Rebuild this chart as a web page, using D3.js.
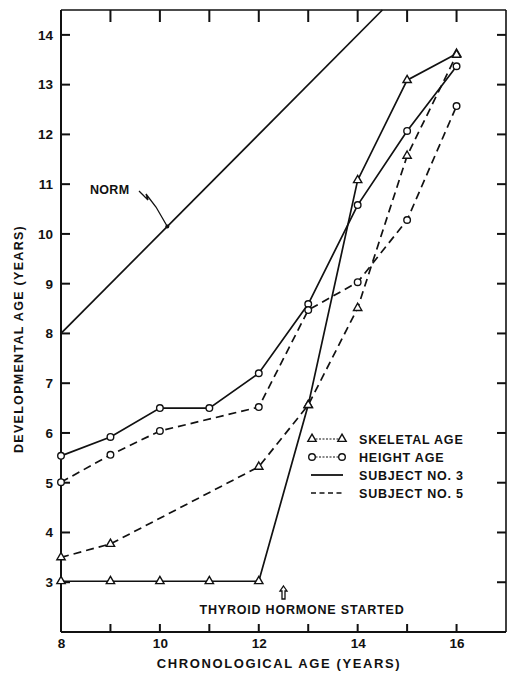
<!DOCTYPE html>
<html>
<head>
<meta charset="utf-8">
<script src="https://cdn.jsdelivr.net/npm/d3@7"></script>
<style>
  html, body { margin: 0; padding: 0; background: #fff; }
  svg { display: block; }
  text { font-family: "Liberation Sans", Arial, sans-serif; font-weight: bold; fill: #111; }
</style>
</head>
<body>
<svg id="chart" width="512" height="679"></svg>
<script>
// Chronological ages (years)
const ages = [8, 9, 10, 11, 12, 13, 14, 15, 16];

// Subject No. 3 (solid lines)
const s3Skeletal = [3.02, 3.02, 3.02, 3.02, 3.02, 6.56, 11.08, 13.09, 13.62];
const s3Height   = [5.54, 5.92, 6.5, 6.5, 7.2, 8.59, 10.58, 12.07, 13.37];

// Subject No. 5 (dashed lines)
const s5SkeletalAges = [8, 9, 12, 13, 14, 15, 16];
const s5Skeletal     = [3.5, 3.77, 5.32, 6.56, 8.51, 11.57, 13.6];
const s5HeightAges   = [8, 9, 10, 12, 13, 14, 15, 16];
const s5Height       = [5.01, 5.56, 6.04, 6.52, 8.47, 9.03, 10.28, 12.57];

// Normal development: developmental age equals chronological age
const normAges = [8, 14.5];
const normValues = [8, 14.5];

// Axis ticks
const xTickLabels = [8, 10, 12, 14, 16];
const xTicks = [9, 10, 11, 12, 13, 14, 15, 16];
const yTicks = [3, 4, 5, 6, 7, 8, 9, 10, 11, 12, 13, 14];

// Legend entries
const legendLabels = ["SKELETAL AGE", "HEIGHT AGE", "SUBJECT NO. 3", "SUBJECT NO. 5"];

const svg = d3.select("#chart");
const x = d3.scaleLinear().domain([8, 17]).range([61, 506]);
const y = d3.scaleLinear().domain([2, 14.5]).range([632, 10]);

const ink = "#111";
const dash = "8,5";

// Plot frame
const frame = svg.append("g");
frame.append("line").attr("x1", x(8)).attr("x2", x(8)).attr("y1", y(14.5)).attr("y2", y(2))
  .attr("stroke", ink).attr("stroke-width", 2);
frame.append("line").attr("x1", x(8)).attr("x2", x(17)).attr("y1", y(2)).attr("y2", y(2))
  .attr("stroke", ink).attr("stroke-width", 2);
frame.append("line").attr("x1", x(8)).attr("x2", x(17)).attr("y1", y(14.5)).attr("y2", y(14.5))
  .attr("stroke", ink).attr("stroke-width", 1.6);
frame.append("line").attr("x1", x(17)).attr("x2", x(17)).attr("y1", y(14.5)).attr("y2", y(2))
  .attr("stroke", ink).attr("stroke-width", 1.6);

// Inward tick marks on all four sides
const ticks = svg.append("g").attr("stroke", ink).attr("stroke-width", 2);
ticks.append("g").selectAll("line").data(xTicks).join("line")
  .attr("x1", d => x(d)).attr("x2", d => x(d)).attr("y1", y(2)).attr("y2", y(2) - 8);
ticks.append("g").selectAll("line").data(xTicks).join("line")
  .attr("x1", d => x(d)).attr("x2", d => x(d)).attr("y1", y(14.5)).attr("y2", y(14.5) + 12);
ticks.append("g").selectAll("line").data(yTicks).join("line")
  .attr("x1", x(8)).attr("x2", x(8) + 9).attr("y1", d => y(d)).attr("y2", d => y(d));
ticks.append("g").selectAll("line").data(yTicks).join("line")
  .attr("x1", x(17)).attr("x2", x(17) - 9).attr("y1", d => y(d)).attr("y2", d => y(d));

// Tick labels through d3 axes (domain and tick lines hidden)
svg.append("g").attr("transform", `translate(0,${y(2)})`)
  .call(d3.axisBottom(x).tickValues(xTickLabels).tickSize(0).tickPadding(6))
  .call(g => g.select(".domain").remove())
  .call(g => g.selectAll("text").attr("font-size", 13.5).attr("font-family", "Liberation Sans, Arial, sans-serif").attr("font-weight", "bold").attr("fill", ink));

svg.append("g").attr("transform", `translate(${x(8)},0)`)
  .call(d3.axisLeft(y).tickValues(yTicks).tickSize(0).tickPadding(8))
  .call(g => g.select(".domain").remove())
  .call(g => g.selectAll("text").attr("font-size", 13.5).attr("font-family", "Liberation Sans, Arial, sans-serif").attr("font-weight", "bold").attr("fill", ink));

// Axis titles
svg.append("text").attr("x", 279).attr("y", 668).attr("text-anchor", "middle")
  .attr("font-size", 13).attr("letter-spacing", 1.6).text("CHRONOLOGICAL AGE (YEARS)");
svg.append("text").attr("transform", "translate(23,339) rotate(-90)").attr("text-anchor", "middle")
  .attr("font-size", 12.5).attr("letter-spacing", 1.3).text("DEVELOPMENTAL AGE (YEARS)");

// Series
const line = d3.line().x(d => x(d[0])).y(d => y(d[1]));
const zip = (xs, ys) => xs.map((v, i) => [v, ys[i]]);

const series = [
  { pts: zip(ages, s3Skeletal), dashed: false, marker: "tri" },
  { pts: zip(ages, s3Height), dashed: false, marker: "circ" },
  { pts: zip(s5SkeletalAges, s5Skeletal), dashed: true, marker: "tri" },
  { pts: zip(s5HeightAges, s5Height), dashed: true, marker: "circ" }
];

// Norm line
svg.append("path").datum(zip(normAges, normValues)).attr("d", line)
  .attr("fill", "none").attr("stroke", ink).attr("stroke-width", 1.7);

series.forEach(s => {
  svg.append("path").datum(s.pts).attr("d", line)
    .attr("fill", "none").attr("stroke", ink).attr("stroke-width", 1.7)
    .attr("stroke-dasharray", s.dashed ? dash : null);
});

const triPath = d3.symbol().type(d3.symbolTriangle).size(30);
function drawMarker(g, kind, cx, cy) {
  if (kind === "circ") {
    g.append("circle").attr("cx", cx).attr("cy", cy).attr("r", 3.3)
      .attr("fill", "#fff").attr("stroke", ink).attr("stroke-width", 1.4);
  } else {
    g.append("path").attr("d", triPath()).attr("transform", `translate(${cx},${cy})`)
      .attr("fill", "#fff").attr("stroke", ink).attr("stroke-width", 1.4);
  }
}
const markers = svg.append("g");
series.forEach(s => s.pts.forEach(p => drawMarker(markers, s.marker, x(p[0]), y(p[1]))));

// NORM label with leader
svg.append("text").attr("x", 90).attr("y", 194).attr("font-size", 12.5).attr("letter-spacing", 0.3).text("NORM");
const nx = x(10.15), ny = y(10.15);
svg.append("path")
  .attr("d", `M139,191 L148,200 L146,194 L156,207 L${nx},${ny}`)
  .attr("fill", "none").attr("stroke", ink).attr("stroke-width", 1.3);
svg.append("circle").attr("cx", nx).attr("cy", ny).attr("r", 2).attr("fill", ink);

// Hormone start annotation
const ax = x(12.5);
svg.append("path")
  .attr("d", `M${ax},586 L${ax + 3.5},591 L${ax + 1.5},591 L${ax + 1.5},599 L${ax - 1.5},599 L${ax - 1.5},591 L${ax - 3.5},591 Z`)
  .attr("fill", "#fff").attr("stroke", ink).attr("stroke-width", 1.3);
svg.append("text").attr("x", 302).attr("y", 614).attr("text-anchor", "middle")
  .attr("font-size", 12.5).attr("letter-spacing", 0.8).text("THYROID HORMONE STARTED");

// Legend
const lg = svg.append("g");
const rows = [439, 457, 475, 493];
const lx0 = 312, lx1 = 342;
// skeletal
lg.append("line").attr("x1", lx0).attr("x2", lx1).attr("y1", rows[0]).attr("y2", rows[0])
  .attr("stroke", ink).attr("stroke-width", 1.2).attr("stroke-dasharray", "2,1.5");
drawMarker(lg, "tri", lx0, rows[0]);
drawMarker(lg, "tri", lx1, rows[0]);
// height
lg.append("line").attr("x1", lx0).attr("x2", lx1).attr("y1", rows[1]).attr("y2", rows[1])
  .attr("stroke", ink).attr("stroke-width", 1.2).attr("stroke-dasharray", "2,1.5");
drawMarker(lg, "circ", lx0, rows[1]);
drawMarker(lg, "circ", lx1, rows[1]);
// subject lines
lg.append("line").attr("x1", lx0 - 1).attr("x2", lx1 + 1).attr("y1", rows[2]).attr("y2", rows[2])
  .attr("stroke", ink).attr("stroke-width", 1.8);
lg.append("line").attr("x1", lx0 - 1).attr("x2", lx1 + 1).attr("y1", rows[3]).attr("y2", rows[3])
  .attr("stroke", ink).attr("stroke-width", 1.6).attr("stroke-dasharray", "5,3.5");
legendLabels.forEach((t, i) => {
  lg.append("text").attr("x", 359).attr("y", rows[i] + 5).attr("font-size", 12.5)
    .attr("letter-spacing", 0.8).text(t);
});
</script>
</body>
</html>
